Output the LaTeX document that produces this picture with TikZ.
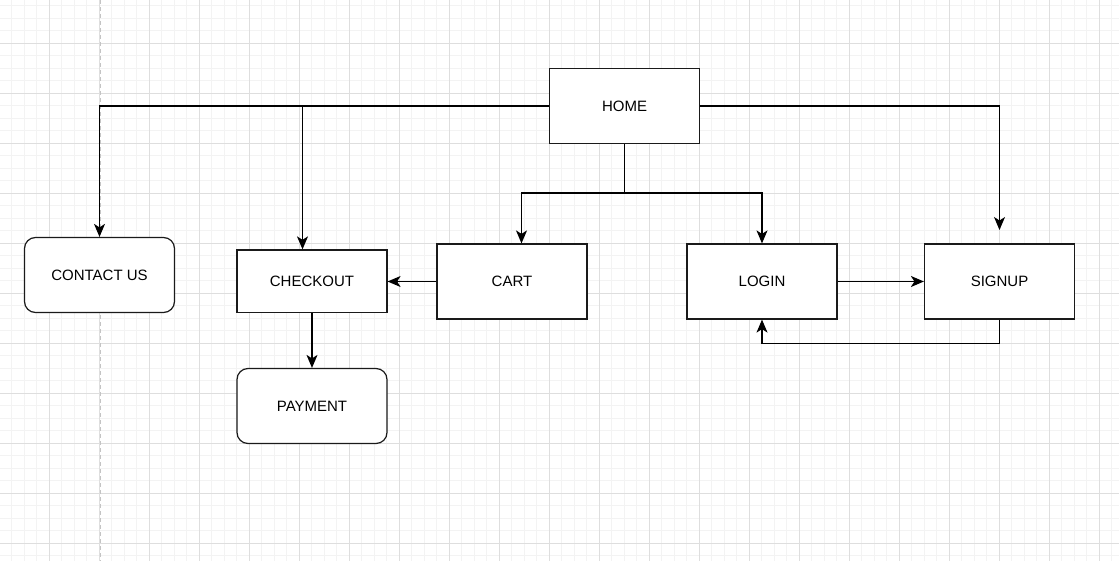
\documentclass[tikz,border=0pt]{standalone}
\usepackage{fontspec}
\setmainfont{Liberation Sans}
\usetikzlibrary{arrows.meta}
\definecolor{gridmajor}{HTML}{DEDEDE}
\definecolor{gridminor}{HTML}{F3F3F3}
\definecolor{dashgrey}{HTML}{C4C4C4}
\definecolor{boxline}{HTML}{1A1A1A}
\tikzset{
  box/.style={draw=boxline, line width=1.2pt, fill=white, minimum width=150pt, minimum height=75pt, inner sep=0pt, font=\fontsize{15}{18}\selectfont},
  rbox/.style={box, rounded corners=11pt},
  arr/.style={draw=black, line width=1.2pt, -{Stealth[length=13pt,width=11pt,inset=3.5pt]}},
  link/.style={draw=black, line width=1.2pt},
}
\begin{document}
\begin{tikzpicture}[x=1pt,y=-1pt]
\useasboundingbox (0,0) rectangle (1119,561);
\fill[white] (0,0) rectangle (1119,561);
% minor grid
\foreach \i in {0,...,90} {
  \draw[gridminor, line width=0.7pt] ({-0.7+12.5*\i},0) -- ({-0.7+12.5*\i},561);
}
\foreach \j in {0,...,46} {
  \draw[gridminor, line width=0.7pt] (0,{-6.7+12.5*\j}) -- (1119,{-6.7+12.5*\j});
}
% major grid
\foreach \i in {0,...,23} {
  \draw[gridmajor, line width=0.8pt] ({-0.7+50*\i},0) -- ({-0.7+50*\i},561);
}
\foreach \j in {0,...,12} {
  \draw[gridmajor, line width=0.8pt] (0,{-6.7+50*\j}) -- (1119,{-6.7+50*\j});
}
\draw[dashgrey, line width=1pt, dash pattern=on 4pt off 3pt] (100,0) -- (100,561);

% nodes
\node[box] (home) at (624.5,106) {HOME};
\node[rbox] (contact) at (99.5,275) {CONTACT US};
\node[box, minimum height=62.5pt] (checkout) at (312,281.2) {CHECKOUT};
\node[box] (cart) at (512,281.5) {CART};
\node[box] (login) at (762,281.5) {LOGIN};
\node[box] (signup) at (999.5,281.5) {SIGNUP};
\node[rbox] (payment) at (312,406) {PAYMENT};

\coordinate (signin) at (999.5,230);
\coordinate (split) at (624.5,193);
\coordinate (loopy) at (999.5,343.5);

% connectors
\draw[arr] (home.west) -| (contact.north);
\draw[arr] (home.west) -| ([xshift=-9.5pt]checkout.north);
\draw[arr] (home.east) -| (signin);
\draw[link] (home.south) -- (split);
\draw[arr] (split) -| ([xshift=9.5pt]cart.north);
\draw[arr] (split) -| (login.north);
\draw[arr] (cart.west) -- (checkout.east |- cart.west);
\draw[arr] (checkout.south) -- (payment.north);
\draw[arr] (login.east) -- (signup.west);
\draw[arr] (signup.south) -- (loopy) -| (login.south);
\end{tikzpicture}
\end{document}
